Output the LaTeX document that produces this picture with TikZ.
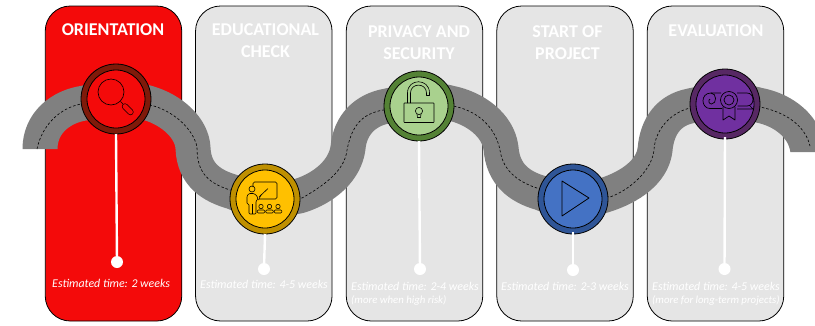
\documentclass[tikz,border=0pt]{standalone}
\usepackage{fontspec}
\setmainfont{Carlito}
\definecolor{pred}{HTML}{F40A0A}
\definecolor{pgray}{HTML}{E5E5E5}
\definecolor{road}{HTML}{808080}
\definecolor{rred}{HTML}{7F1A0A}
\definecolor{fyel}{HTML}{FFC000}
\definecolor{ryel}{HTML}{BF9000}
\definecolor{fgrn}{HTML}{A9D18E}
\definecolor{rgrn}{HTML}{548235}
\definecolor{fblu}{HTML}{4472C4}
\definecolor{rblu}{HTML}{2F5597}
\definecolor{fpur}{HTML}{7030A0}
\definecolor{rpur}{HTML}{572864}
\tikzset{
  panel/.style={draw=black,line width=.8pt,rounded corners=25pt,minimum width=136.5pt,minimum height=315pt,inner sep=0,outer sep=0},
  ringc/.style={circle,draw=black,line width=.8pt,minimum size=70pt,inner sep=0,outer sep=0},
  innerc/.style={circle,draw=black,line width=.8pt,minimum size=58pt,inner sep=0,outer sep=0},
  ttl/.style={text=white,font=\bfseries\fontsize{18}{22}\selectfont,align=center,inner sep=0},
  est/.style={text=white,font=\itshape\fontsize{11.9}{13}\selectfont,inner sep=0,anchor=west},
  estb/.style={text=white,font=\itshape\fontsize{10.8}{12}\selectfont,inner sep=0,anchor=west},
  stem/.style={draw=white,line width=2.4pt},
  dotn/.style={circle,fill=white,minimum size=12pt,inner sep=0,outer sep=0},
  icon/.style={draw=black,line width=.6pt,line join=round},
}
\begin{document}
\begin{tikzpicture}[x=1pt,y=-1pt]
\useasboundingbox (0,0) rectangle (815,325);
\fill[white] (0,0) rectangle (815,325);
% panels
\node[panel,fill=pred]  (p1) at (113.5,163.5) {};
\node[panel,fill=pgray] (p2) at (263.8,163.5) {};
\node[panel,fill=pgray] (p3) at (414.5,163.5) {};
\node[panel,fill=pgray] (p4) at (565,163.5) {};
\node[panel,fill=pgray] (p5) at (715.5,163.5) {};
% road
\begin{scope}
\clip (0,0) -- (815,0) -- (815,152) -- (760,152) -- (760,325) -- (100,325) -- (100,149) -- (0,149) -- cycle;
\draw[road,line width=35pt,line join=round] (40,175) -- (40,149) .. controls (40,122) and (62,106) .. (85,103)
  .. controls (100,98) and (132,98) .. (148,103) .. controls (172,110) and (192,128) .. (193,148)
  .. controls (194,175) and (212,186) .. (233,192) .. controls (250,200) and (280,200) .. (299,196)
  .. controls (325,188) and (345,170) .. (348,148) .. controls (350,125) and (365,110) .. (387,106)
  .. controls (405,102) and (432,98) .. (450,103) .. controls (475,108) and (498,125) .. (501,148)
  .. controls (503,175) and (520,187) .. (541,193) .. controls (558,201) and (588,201) .. (605,195)
  .. controls (630,187) and (652,172) .. (655,150) .. controls (657,125) and (670,110) .. (690,106)
  .. controls (705,102) and (742,100) .. (758,105) .. controls (785,110) and (806,128) .. (808,152) -- (808,175);
\draw[black,line width=.6pt,dash pattern=on 2.5pt off 2pt] (37,149) .. controls (42,125) and (60,108) .. (81,104) -- (150,105)
  .. controls (172,110) and (193,128) .. (197,147) .. controls (197,170) and (205,182) .. (230,190) -- (302,198)
  .. controls (325,185) and (345,170) .. (347,150) .. controls (352,125) and (362,114) .. (383,110) -- (453,106)
  .. controls (475,110) and (495,125) .. (500,150) .. controls (503,172) and (520,183) .. (540,189) -- (610,197)
  .. controls (630,190) and (652,170) .. (654,150) .. controls (655,130) and (670,113) .. (690,108) -- (760,107)
  .. controls (785,112) and (805,125) .. (810,146);
\end{scope}
% titles
\node[ttl] (t1) at (113,30) {ORIENTATION};
\node[ttl] (t2) at (265.5,41) {EDUCATIONAL\\CHECK};
\node[ttl] (t3) at (419,42.5) {PRIVACY AND\\SECURITY};
\node[ttl] (t4) at (567.5,42.5) {START OF\\PROJECT};
\node[ttl] (t5) at (716,31) {EVALUATION};
% circles
\node[ringc,fill=rred] (c1) at (116,99) {};
\node[innerc,fill=pred] (i1) at (116,99) {};
\node[ringc,fill=ryel] (c2) at (265,199) {};
\node[innerc,fill=fyel] (i2) at (265,199) {};
\node[ringc,fill=rgrn] (c3) at (419,106) {};
\node[innerc,fill=fgrn] (i3) at (419,106) {};
\node[ringc,fill=rblu] (c4) at (573,199) {};
\node[innerc,fill=fblu] (i4) at (573,199) {};
\node[ringc,fill=rpur] (c5) at (725,104) {};
\node[innerc,fill=fpur] (i5) at (725,104) {};
% stems
\node[dotn] (d1) at (117,262) {};
\node[dotn] (d2) at (264,269) {};
\node[dotn] (d3) at (420,269) {};
\node[dotn] (d4) at (573,270) {};
\node[dotn] (d5) at (724.5,269) {};
\draw[stem] (c1.south) -- (d1);
\draw[stem] (c2.south) -- (d2);
\draw[stem] (c3.south) -- (d3);
\draw[stem] ([yshift=2pt]c4.south) -- (d4);
\draw[stem] ([yshift=2pt]c5.south) -- (d5);
% estimates
\node[est] (e1) at (52,283.5) {Estimated time: 2 weeks};
\node[est] (e2) at (200,284) {Estimated time: 4-5 weeks};
\node[est] (e3) at (351,286) {Estimated time: 2-4 weeks};
\node[estb] (e3b) at (351,300) {(more when high risk)};
\node[est] (e4) at (501,286) {Estimated time: 2-3 weeks};
\node[est] (e5) at (652,286) {Estimated time: 4-5 weeks};
\node[estb] (e5b) at (652,300) {(more for long-term projects)};
% magnifier
\draw[icon] (111,92) circle (13);
\draw[icon] (120.5,101.5) -- (123.5,104.5);
\draw[black,line width=6.2pt,line cap=round] (125,106.5) -- (130.5,112);
\draw[pred,line width=4.9pt,line cap=round] (125,106.5) -- (130.5,112);
% teacher
\draw[icon,rounded corners=1.5pt] (253,187) -- (253,182) -- (277,182) -- (277,199) -- (259,199);
\draw[icon] (252,189) circle (3);
\draw[icon] (259,197) -- (268,188.5);
\draw[icon] (261,195) -- (258.5,200);
\draw[icon,rounded corners=1pt] (257,196) -- (254,193.5) -- (249,193.5) -- (247,196) -- (247,204) -- (249,204) -- (249,214) -- (256,214) -- (256,201) -- (258,199) -- cycle;
\draw[icon] (252.5,204) -- (252.5,214);
\foreach \px in {261,269.5,278}{
  \draw[icon] (\px,206.5) circle (2.2);
  \draw[icon,rounded corners=1pt] (\px-3.8,213) -- (\px-3.8,210) -- (\px+3.8,210) -- (\px+3.8,213) -- cycle;
}
% lock
\draw[icon,rounded corners=.5pt] (404,103) rectangle (434,122.5);
\draw[icon] (407.5,103) -- (407.5,93) .. controls (407.5,78) and (429.5,78) .. (429.5,93) -- (429.5,95.5) -- (426.5,95.5) -- (426.5,93) .. controls (426.5,82.5) and (410.5,82.5) .. (410.5,93) -- (410.5,103);
\draw[icon] (417,114) -- (417.5,117.5) -- (420.5,117.5) -- (421,114);
\draw[icon] (419,111) circle (3.6);
% play
\draw[icon,line width=.8pt] (562,181) -- (562,216) -- (589,198) -- cycle;
% diploma
\begin{scope}[line width=.7pt,line join=round]
\draw (721,93) -- (711,93) .. controls (700,93) and (701,108.5) .. (710,108.5) -- (722,108.5);
\draw (711,93) .. controls (717,93) and (717,104) .. (711.5,104) .. controls (708.5,104) and (708,100) .. (710,99);
\draw (737,93) -- (747,93) .. controls (755,93) and (755,106) .. (747,106) -- (737.5,106);
\draw (737,109) -- (753,109) -- (750,106);
\draw (723,107) -- (723,120) -- (729,116) -- (735,120) -- (735,107);
\draw[fill=fpur] (729,100) circle (8.5);
\draw (729,100) circle (5);
\end{scope}
\end{tikzpicture}
\end{document}
